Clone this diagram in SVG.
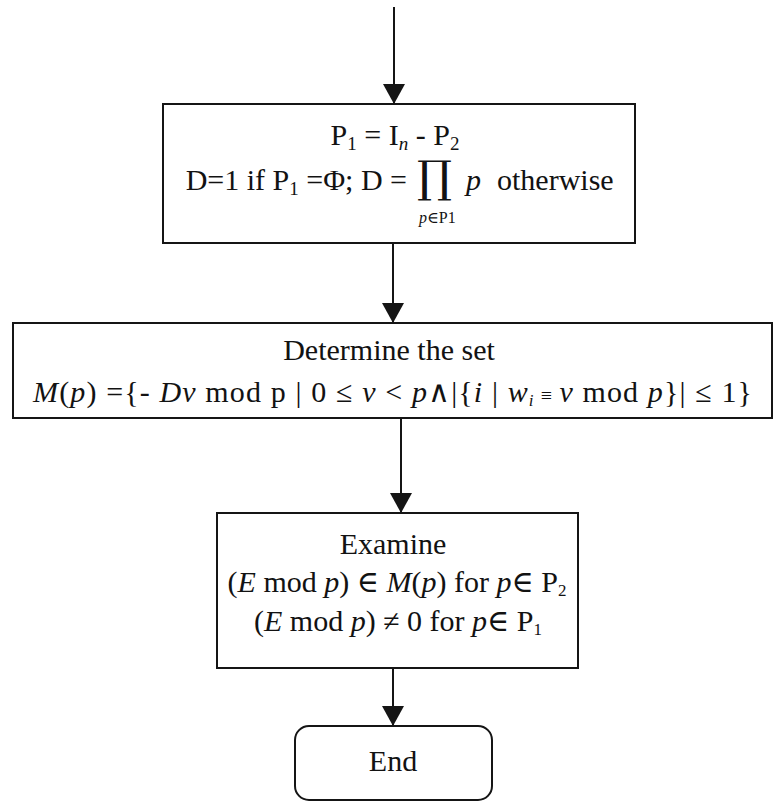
<svg xmlns="http://www.w3.org/2000/svg" width="773" height="803" viewBox="0 0 773 803">
  <style>
    .box { fill: #ffffff; stroke: #151515; stroke-width: 2; }
    .t { font-family: "Liberation Serif", "DejaVu Serif", serif; font-size: 30px; fill: #121212; }
    .c { text-anchor: middle; }
    .i { font-style: italic; }
    .flow { stroke: #151515; stroke-width: 2; fill: none; marker-end: url(#head); }
  </style>
  <defs>
    <marker id="head" viewBox="0 0 20 22" refX="20" refY="11" markerWidth="20" markerHeight="22" markerUnits="userSpaceOnUse" orient="auto">
      <path d="M0,0 L20,11 L0,22 z" fill="#151515"/>
    </marker>
  </defs>
  <rect width="773" height="803" fill="#ffffff"/>

  <!-- flow connectors -->
  <g id="connectors">
    <line class="flow" x1="394" y1="7" x2="394" y2="104"/>
    <line class="flow" x1="393" y1="243" x2="393" y2="323"/>
    <line class="flow" x1="401" y1="418" x2="401" y2="513"/>
    <line class="flow" x1="393" y1="668" x2="393" y2="726"/>
  </g>

  <!-- partition of the index set and product D -->
  <g id="node-partition">
    <rect class="box" x="163" y="104" width="472" height="139"/>
    <text class="t c" x="395" y="145">P<tspan font-size="19" dy="5">1</tspan><tspan dy="-5"> = I</tspan><tspan class="i" font-size="19" dy="5">n</tspan><tspan dy="-5"> - P</tspan><tspan font-size="19" dy="5">2</tspan></text>
    <text class="t" x="407" y="190" text-anchor="end">D=1 if P<tspan font-size="19" dy="5">1</tspan><tspan dy="-5"> =Φ; D = </tspan></text>
    <text x="417" y="192" font-family="DejaVu Serif, serif" font-size="44" fill="#121212">∏</text>
    <text class="t i" x="466" y="190">p</text>
    <text class="t" x="497" y="190">otherwise</text>
    <text class="t" x="419" y="223" style="font-size:16px"><tspan class="i">p</tspan>∈P1</text>
  </g>

  <!-- admissible residues -->
  <g id="node-set">
    <rect class="box" x="13" y="323" width="759" height="95"/>
    <text class="t c" x="389" y="360">Determine the set</text>
    <text class="t" x="33" y="402" textLength="719" lengthAdjust="spacing"><tspan class="i">M</tspan>(<tspan class="i">p</tspan>) ={- <tspan class="i">D</tspan><tspan class="i">ν</tspan> mod p | 0 ≤ <tspan class="i">ν</tspan> &lt; <tspan class="i">p</tspan>∧|{<tspan class="i">i</tspan> | <tspan class="i">w</tspan><tspan class="i" font-size="17" dy="4">i</tspan><tspan font-size="20" dy="-4"> ≡ </tspan><tspan class="i">ν</tspan> mod <tspan class="i">p</tspan>}| ≤ 1}</text>
  </g>

  <!-- residue test -->
  <g id="node-examine">
    <rect class="box" x="217" y="513" width="361" height="155"/>
    <text class="t c" x="393" y="554">Examine</text>
    <text class="t c" x="397" y="592">(<tspan class="i">E</tspan> mod <tspan class="i">p</tspan>) ∈ <tspan class="i">M</tspan>(<tspan class="i">p</tspan>) for <tspan class="i">p</tspan>∈ P<tspan font-size="17" dy="4">2</tspan></text>
    <text class="t c" x="398" y="631">(<tspan class="i">E</tspan> mod <tspan class="i">p</tspan>) ≠ 0 for <tspan class="i">p</tspan>∈ P<tspan font-size="17" dy="4">1</tspan></text>
  </g>

  <!-- terminator -->
  <g id="node-end">
    <rect class="box" x="295" y="726" width="197" height="74" rx="14" ry="14"/>
    <text class="t c" x="393" y="771">End</text>
  </g>
</svg>
